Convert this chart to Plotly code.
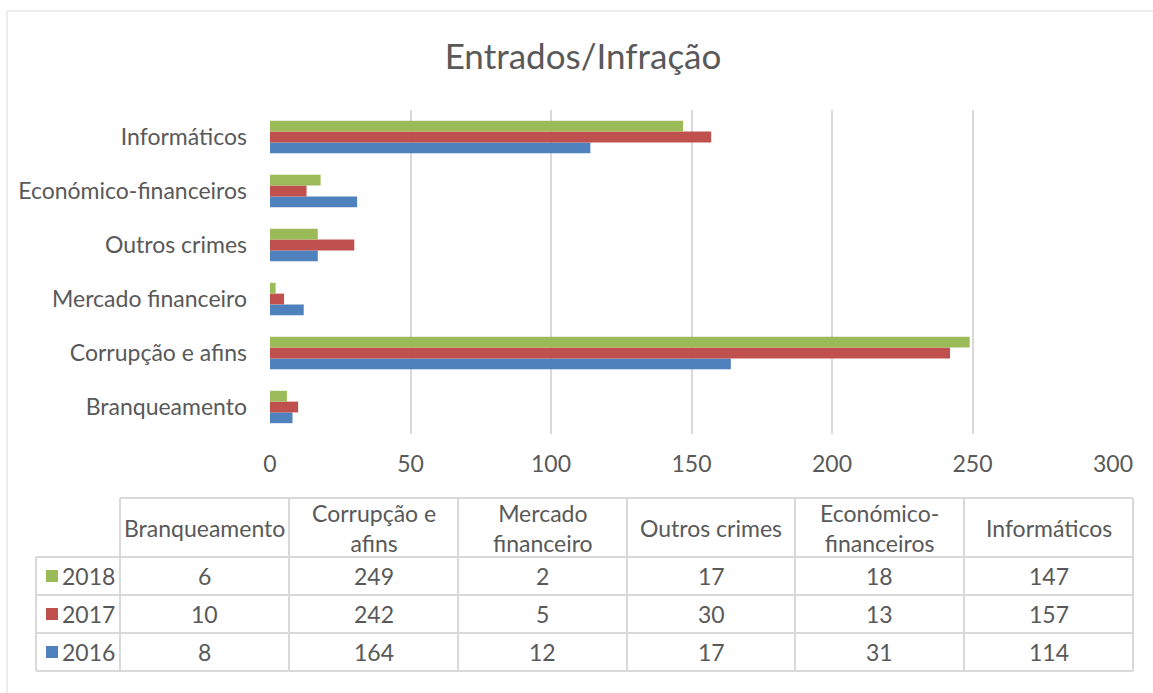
import plotly.graph_objects as go

categories = ["Branqueamento", "Corrupção e afins", "Mercado financeiro",
              "Outros crimes", "Económico-financeiros", "Informáticos"]
header_labels = ["Branqueamento", "Corrupção e<br>afins", "Mercado<br>financeiro",
                 "Outros crimes", "Económico-<br>financeiros", "Informáticos"]
years = ["2016", "2017", "2018"]
v2016 = [8, 164, 12, 17, 31, 114]
v2017 = [10, 242, 5, 30, 13, 157]
v2018 = [6, 249, 2, 17, 18, 147]
x_ticks = [0, 50, 100, 150, 200, 250, 300]

series = {"2016": v2016, "2017": v2017, "2018": v2018}
colors = {"2016": "#4F81BD", "2017": "#C0504D", "2018": "#9BBB59"}

FONT = "Lato"
TXT = "#595959"
GRID = "#D9D9D9"
W, H = 1153, 693
L, R, T, B = 270, 40, 110, 259
PW, PH = W - L - R, H - T - B


def px(x):
    return (x - L) / PW


def py(y):
    return (H - B - y) / PH


fig = go.Figure()
for yr in years:
    fig.add_trace(go.Bar(x=series[yr], y=categories, orientation="h", name=yr,
                         marker=dict(color=colors[yr], line=dict(width=0))))

shapes = []
annotations = []

# chart border
shapes.append(dict(type="rect", xref="paper", yref="paper", x0=px(7), x1=px(1165),
                   y0=py(11), y1=py(705), line=dict(color=GRID, width=1)))

# data table
col_x = [36, 120, 289, 458, 627, 795, 964, 1133]
row_y = [498, 557, 595, 633, 671]
line = dict(color=GRID, width=2)
shapes.append(dict(type="line", xref="paper", yref="paper", x0=px(col_x[1]), x1=px(col_x[-1]),
                   y0=py(row_y[0]), y1=py(row_y[0]), line=line))
for ry in row_y[1:]:
    shapes.append(dict(type="line", xref="paper", yref="paper", x0=px(col_x[0]), x1=px(col_x[-1]),
                       y0=py(ry), y1=py(ry), line=line))
shapes.append(dict(type="line", xref="paper", yref="paper", x0=px(col_x[0]), x1=px(col_x[0]),
                   y0=py(row_y[1]), y1=py(row_y[-1]), line=line))
for cx in col_x[1:]:
    shapes.append(dict(type="line", xref="paper", yref="paper", x0=px(cx), x1=px(cx),
                       y0=py(row_y[0]), y1=py(row_y[-1]), line=line))

font = dict(family=FONT, size=23, color=TXT)
for i, lab in enumerate(header_labels):
    cx = (col_x[i + 1] + col_x[i + 2]) / 2
    cy = (row_y[0] + row_y[1]) / 2
    annotations.append(dict(xref="paper", yref="paper", x=px(cx), y=py(cy), text=lab,
                            showarrow=False, font=font, xanchor="center", yanchor="middle"))

for r, yr in enumerate(reversed(years)):
    cy = (row_y[r + 1] + row_y[r + 2]) / 2
    shapes.append(dict(type="rect", xref="paper", yref="paper", x0=px(46), x1=px(58),
                       y0=py(cy - 6), y1=py(cy + 6), fillcolor=colors[yr], line=dict(width=0)))
    annotations.append(dict(xref="paper", yref="paper", x=px(60), y=py(cy), text=yr,
                            showarrow=False, font=font, xanchor="left", yanchor="middle"))
    for i, v in enumerate(series[yr]):
        cx = (col_x[i + 1] + col_x[i + 2]) / 2
        annotations.append(dict(xref="paper", yref="paper", x=px(cx), y=py(cy), text=str(v),
                                showarrow=False, font=font, xanchor="center", yanchor="middle"))

fig.update_layout(
    width=W, height=H,
    margin=dict(l=L, r=R, t=T, b=B),
    paper_bgcolor="white", plot_bgcolor="white",
    barmode="group", bargap=0.4, bargroupgap=0,
    showlegend=False,
    title=dict(text="Entrados/Infração", x=583 / W, xanchor="center",
               y=1 - 57 / H, yanchor="middle", yref="container",
               font=dict(family=FONT, size=35, color=TXT)),
    font=dict(family=FONT, color=TXT),
    shapes=shapes,
    annotations=annotations,
)
fig.update_xaxes(range=[0, 300], tickvals=x_ticks, showgrid=True, gridcolor=GRID, gridwidth=1.5,
                 zeroline=False, showline=False, ticks="", ticklabelstandoff=14,
                 tickfont=dict(family=FONT, size=23, color=TXT), fixedrange=True)
fig.update_yaxes(showgrid=False, zeroline=False, showline=False, ticks="",
                 ticklabelstandoff=22, tickfont=dict(family=FONT, size=23, color=TXT),
                 fixedrange=True)

fig.write_html("out.html", config={"displayModeBar": False},
               post_script="document.body.style.margin='0';")
